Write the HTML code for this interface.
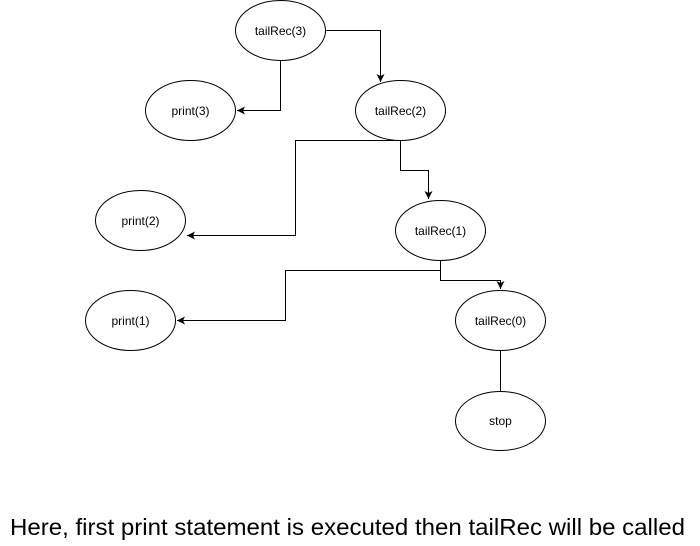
<!DOCTYPE html>
<html><head><style>
html,body{margin:0;padding:0;background:#fff;width:700px;height:546px;overflow:hidden}
svg{display:block}
</style></head><body>
<svg width="700" height="546" viewBox="0 0 700 546" xmlns="http://www.w3.org/2000/svg">
<defs><marker id="a" markerWidth="10" markerHeight="10" refX="8" refY="5" orient="auto" markerUnits="userSpaceOnUse"><path d="M0,1 L8,5 L0,9 L2,5 Z" fill="#000"/></marker></defs>
<g fill="#fff" stroke="#000" stroke-width="1">
<ellipse cx="280.5" cy="30.5" rx="45" ry="30"/>
<ellipse cx="190.5" cy="110.5" rx="45" ry="30"/>
<ellipse cx="400.5" cy="110.5" rx="45" ry="30"/>
<ellipse cx="140.5" cy="220.5" rx="45" ry="30"/>
<ellipse cx="440.5" cy="230.5" rx="45" ry="30"/>
<ellipse cx="130.5" cy="320.5" rx="45" ry="30"/>
<ellipse cx="500.5" cy="320.5" rx="45" ry="30"/>
<ellipse cx="500.5" cy="421" rx="45" ry="29.5"/>
</g>
<g fill="none" stroke="#000" stroke-width="1">
<path d="M325.5 30.5 H380.5 V82" marker-end="url(#a)"/>
<path d="M280.5 60.5 V110.5 H237" marker-end="url(#a)"/>
<path d="M400.5 140.5 H295.5 V235.5 H187" marker-end="url(#a)"/>
<path d="M400.5 140.5 V170.5 H428.5 V199" marker-end="url(#a)"/>
<path d="M440.5 260.5 V270.5 H285.5 V320.5 H177" marker-end="url(#a)"/>
<path d="M440.5 270.5 V280.5 H500.5 V289" marker-end="url(#a)"/>
<path d="M500.5 350.5 V391.5"/>
</g>
<g font-family="Liberation Sans, sans-serif" font-size="12" text-anchor="middle" fill="#000">
<text x="280.5" y="35">tailRec(3)</text>
<text x="190.5" y="115">print(3)</text>
<text x="400.5" y="115">tailRec(2)</text>
<text x="140.5" y="225">print(2)</text>
<text x="440.5" y="235">tailRec(1)</text>
<text x="130.5" y="325">print(1)</text>
<text x="500.5" y="325">tailRec(0)</text>
<text x="500.5" y="425">stop</text>
</g>
<text x="10" y="535" font-family="Liberation Sans, sans-serif" font-size="23" textLength="675" lengthAdjust="spacingAndGlyphs" fill="#000">Here, first print statement is executed then tailRec will be called</text>
</svg>
</body></html>
